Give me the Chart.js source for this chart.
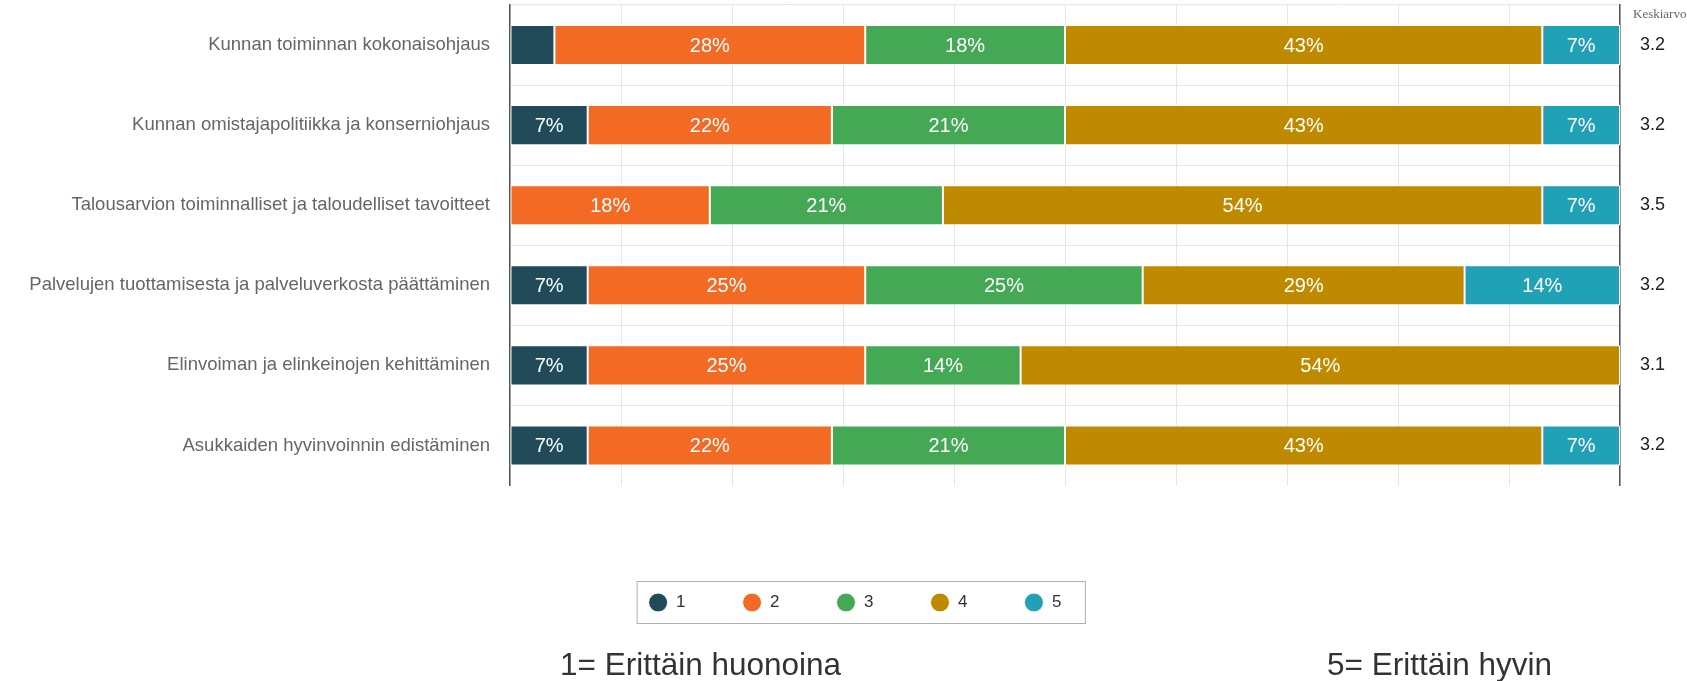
<!DOCTYPE html>
<html>
<head>
<meta charset="utf-8">
<script src="https://cdn.jsdelivr.net/npm/chart.js@4"></script>
<style>
  html, body { margin: 0; padding: 0; background: #fff; }
  #wrap { width: 1687px; height: 681px; position: relative; }
</style>
</head>
<body>
<div id="wrap"><canvas id="surveyChart"></canvas></div>
<script>
// Categories and answer shares (%) per rating 1..5
const categories = [
    'Kunnan toiminnan kokonaisohjaus',
    'Kunnan omistajapolitiikka ja konserniohjaus',
    'Talousarvion toiminnalliset ja taloudelliset tavoitteet',
    'Palvelujen tuottamisesta ja palveluverkosta päättäminen',
    'Elinvoiman ja elinkeinojen kehittäminen',
    'Asukkaiden hyvinvoinnin edistäminen'
];
const rating1 = [4, 7, 0, 7, 7, 7];
const rating2 = [28, 22, 18, 25, 25, 22];
const rating3 = [18, 21, 21, 25, 14, 21];
const rating4 = [43, 43, 54, 29, 54, 43];
const rating5 = [7, 7, 7, 14, 0, 7];
const means = ['3.2', '3.2', '3.5', '3.2', '3.1', '3.2'];
const seriesNames = ['1', '2', '3', '4', '5'];
const colors = ['#224b5a', '#f26a24', '#44a855', '#c08a00', '#21a1b5'];

const labelFont = "'Liberation Sans', Arial, sans-serif";

// white % labels in the middle of each segment
const segmentLabels = {
    id: 'segmentLabels',
    afterDatasetsDraw(chart) {
        const ctx = chart.ctx;
        ctx.save();
        ctx.fillStyle = '#ffffff';
        ctx.font = '20px ' + labelFont;
        ctx.textAlign = 'center';
        ctx.textBaseline = 'middle';
        chart.data.datasets.forEach((ds, i) => {
            const meta = chart.getDatasetMeta(i);
            meta.data.forEach((bar, j) => {
                const v = ds.data[j];
                if (v < 5) return;
                const p = bar.getCenterPoint();
                ctx.fillText(v + '%', p.x, p.y + 1);
            });
        });
        ctx.restore();
    }
};

// legend frame, mean header and the scale notes
const extras = {
    id: 'extras',
    afterDraw(chart) {
        const ctx = chart.ctx;
        const boxes = chart.legend.legendHitBoxes;
        ctx.save();
        if (boxes.length) {
            const first = boxes[0];
            const last = boxes[boxes.length - 1];
            const cy = first.top + 8.5;
            ctx.strokeStyle = '#b0b0b0';
            ctx.lineWidth = 1;
            ctx.strokeRect(first.left - 11.5, cy - 21, last.left + last.width + 24 - first.left + 11.5, 42);
        }
        ctx.fillStyle = '#666';
        ctx.font = "13px 'Liberation Serif', 'DejaVu Serif', serif";
        ctx.textAlign = 'left';
        ctx.textBaseline = 'alphabetic';
        ctx.fillText('Keskiarvo', chart.chartArea.right + 13, 18);

        ctx.fillStyle = '#333';
        ctx.font = '31.5px ' + labelFont;
        ctx.fillText('1= Erittäin huonoina', 560, 675);
        ctx.fillText('5= Erittäin hyvin', 1327, 675);
        ctx.restore();
    }
};

function fixWidth(w) {
    return function (scale) {
        scale.width = w;
        scale.paddingTop = 0;
        scale.paddingBottom = 0;
    };
}

const ratings = [rating1, rating2, rating3, rating4, rating5];

const ctx = document.getElementById('surveyChart').getContext('2d');
const surveyChart = new Chart(ctx, {
    type: 'bar',
    data: {
        labels: categories,
        datasets: ratings.map((r, i) => ({
            label: seriesNames[i],
            data: r,
            backgroundColor: colors[i],
            borderColor: '#ffffff',
            borderWidth: 1,
            borderSkipped: false,
            barPercentage: 0.5,
            categoryPercentage: 1.0
        }))
    },
    options: {
        indexAxis: 'y',
        responsive: true,
        maintainAspectRatio: false,
        animation: false,
        layout: {
            padding: { top: 5, left: 23, right: 0, bottom: 60 }
        },
        scales: {
            x: {
                stacked: true,
                min: 0,
                max: 100,
                ticks: { display: false, stepSize: 10 },
                grid: { color: '#e6e6e6', drawTicks: false },
                border: { display: false },
                afterFit(scale) { scale.height = 51.5; }
            },
            y: {
                stacked: true,
                grid: {
                    color: c => (c.index === undefined ? 'rgba(0,0,0,0)' : '#e6e6e6'),
                    drawTicks: false,
                    offset: true
                },
                border: { color: '#555', width: 1.5 },
                ticks: {
                    color: '#666',
                    padding: 20,
                    font: { family: labelFont, size: 18.5 }
                },
                afterFit: fixWidth(487)
            },
            y2: {
                type: 'category',
                labels: means,
                position: 'right',
                offset: true,
                grid: { display: false, drawTicks: false },
                border: { color: '#555', width: 1.5 },
                ticks: {
                    color: '#222',
                    padding: 20,
                    font: { family: labelFont, size: 18 }
                },
                afterFit: fixWidth(67)
            }
        },
        plugins: {
            legend: {
                position: 'bottom',
                labels: {
                    usePointStyle: true,
                    pointStyle: 'circle',
                    pointStyleWidth: 19,
                    boxHeight: 13.4,
                    padding: 57,
                    color: '#333',
                    font: { family: labelFont, size: 17 }
                }
            },
            tooltip: { enabled: false }
        }
    },
    plugins: [segmentLabels, extras]
});
</script>
</body>
</html>
